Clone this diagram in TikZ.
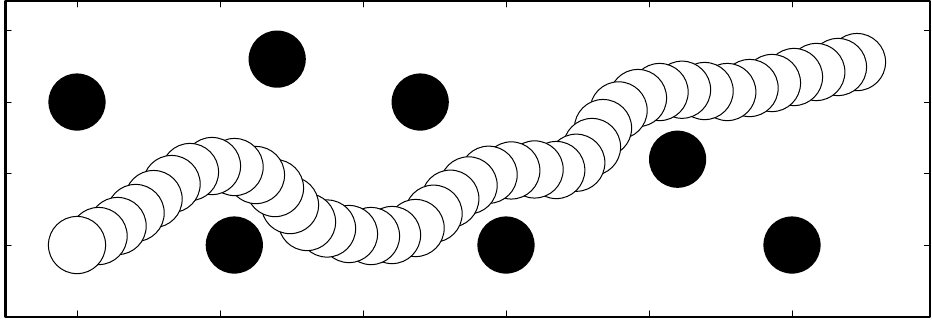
\documentclass[tikz,border=0pt]{standalone}
\begin{document}
\begin{tikzpicture}[line join=round, line cap=round, thin]
	\useasboundingbox (-1.077,-1.049) rectangle (11.958,3.427);
	\path	(-1,-1) coordinate (LL)
		(11.93,3.41) coordinate (UR)
		(0,2) coordinate (A)
		(2.8,2.6) coordinate (B)
		(2.2,0) coordinate (C)
		(4.8,2) coordinate (D)
		(6,0) coordinate (E)
		(8.4,1.2) coordinate (F)
		(10,0) coordinate (G);
	\draw[line width=0.8pt] (LL) rectangle (UR);
	\foreach \x in {0,2,...,10} {\draw (\x,-1)--++(0,0.08); \draw (\x,3.41)--++(0,-0.08);}
	\foreach \y in {0,1,2,3} {\draw (-1,\y)--++(0.08,0); \draw (11.93,\y)--++(-0.08,0);}
	% robot positions, last one first
	\foreach \x/\y in {10.909/2.559,10.643/2.490,10.340/2.420,10.028/2.350,9.720/2.266,
		9.407/2.196,9.095/2.140,8.778/2.154,8.462/2.172,8.148/2.140,7.846/2.056,7.575/1.883,
		7.357/1.636,7.203/1.371,6.983/1.151,6.703/1.049,6.400/1.057,6.074/1.043,5.757/0.983,
		5.477/0.834,5.221/0.648,4.987/0.438,4.736/0.238,4.406/0.140,4.112/0.126,3.804/0.154,
		3.497/0.231,3.217/0.322,2.979/0.559,2.769/0.797,2.503/0.979,2.204/1.091,1.888/1.105,
		1.580/1.021,1.323/0.853,1.071/0.643,0.820/0.448,0.568/0.266,0.302/0.126,0/0}
		\filldraw[fill=white] (\x,\y) circle (0.4);
	\foreach \p in {A,B,C,D,E,F,G} \fill (\p) circle (0.4);
\end{tikzpicture}
\end{document}
